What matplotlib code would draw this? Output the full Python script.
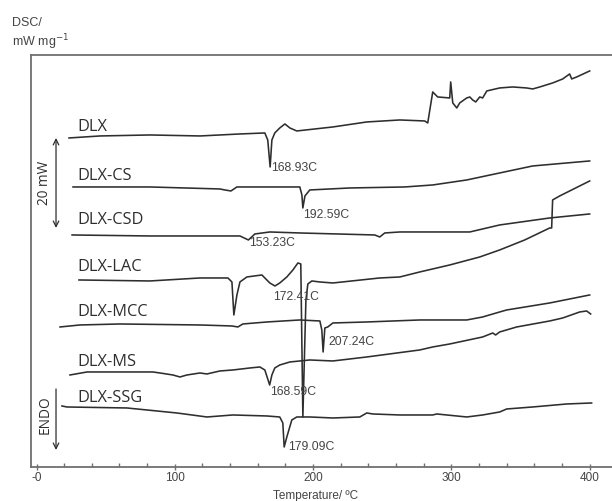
import matplotlib
matplotlib.use("Agg")
import matplotlib.pyplot as plt

# DSC traces: temperature (degC) vs stacked heat flow (offset units, endo down)
dlx_t = [23.5, 45.9, 82.0, 118.2, 147.1, 165.1, 167.2, 168.93, 170.2, 172.3, 175.9,
         179.6, 183.2, 188.2, 214.3, 238.8, 262.7, 280.7, 282.9, 286.5, 290.1, 298.8,
         299.5, 301.0, 303.9, 306.0, 311.1, 313.3, 315.4, 317.6, 320.5, 322.6, 325.6,
         334.9, 344.3, 354.4, 358.8, 363.9, 373.2, 380.5, 385.5, 387.0, 390.6, 400.0]
dlx_y = [329, 331, 332, 331, 333, 334, 327, 300, 327, 334, 339,
         343, 339, 336, 340, 345, 347, 346, 344, 375, 370, 369,
         385, 364, 359, 364, 369, 370, 367, 365, 370, 369, 376,
         379, 380, 379, 378, 380, 384, 388, 393, 388, 390, 396]

cs_t = [26.4, 82.0, 132.6, 136.2, 140.6, 144.9, 190.4, 191.9, 192.59, 194.1, 197.6,
        226.6, 266.3, 286.5, 311.1, 334.9, 358.8, 383.4, 400.0]
cs_y = [280, 280, 278, 277, 276, 280, 280, 272, 259, 271, 277,
        279, 280, 282, 287, 294, 301, 304, 306]

csd_t = [25.7, 82.0, 118.2, 147.1, 153.23, 157.9, 168.7, 190.4, 244.6, 248.2, 251.8,
         262.7, 313.3, 334.9, 371.1, 400.0]
csd_y = [232, 231, 231, 231, 227, 233, 235, 234, 232, 230, 234,
         235, 235, 242, 249, 253]

lac_t = [30.7, 82.0, 118.2, 138.4, 141.3, 142.7, 144.9, 147.1, 152.1, 163.0, 165.1,
         168.7, 172.41, 175.9, 181.0, 185.4, 189.0, 191.1, 192.6, 194.8, 196.2, 199.1,
         204.9, 214.3, 248.2, 262.7, 277.1, 298.8, 320.5, 334.9, 353.0, 371.1, 372.5,
         373.2, 378.3, 400.0]
lac_y = [187, 186, 189, 189, 185, 152, 172, 185, 190, 192, 189,
         184, 181, 184, 190, 197, 204, 203, 50, 167, 183, 186,
         185, 184, 189, 190, 195, 202, 210, 217, 227, 239, 239,
         267, 271, 286]

mcc_t = [17.0, 31.4, 60.3, 118.2, 141.3, 145.6, 149.2, 166.6, 190.4, 204.9, 206.3,
         207.24, 208.5, 210.6, 214.3, 238.8, 277.1, 311.1, 322.6, 334.9, 340.0, 371.1,
         400.0]
mcc_y = [140, 142, 143, 142, 141, 140, 143, 145, 147, 146, 137,
         115, 139, 140, 144, 145, 147, 147, 150, 155, 157, 164,
         172]

ms_t = [24.2, 36.5, 84.2, 89.2, 98.6, 103.7, 108.8, 118.2, 123.2, 132.6, 142.0,
        154.3, 161.5, 165.1, 168.59, 170.2, 172.3, 175.9, 183.2, 190.4, 197.6, 214.3,
        238.8, 277.1, 286.5, 298.8, 322.6, 329.9, 332.0, 334.9, 347.2, 371.1, 380.5,
        392.8, 397.8, 400.7]
ms_y = [92, 95, 95, 94, 92, 90, 92, 94, 93, 96, 97,
        99, 100, 97, 82, 92, 99, 102, 105, 106, 107, 106,
        110, 117, 120, 123, 130, 134, 132, 135, 140, 146, 149,
        155, 156, 153]

ssg_t = [18.4, 22.0, 65.4, 101.5, 123.2, 142.0, 166.6, 175.9, 178.1, 179.09, 181.0,
         184.6, 188.2, 197.6, 214.3, 233.8, 238.8, 243.2, 262.7, 286.5, 289.4, 311.1,
         322.6, 334.9, 340.0, 358.8, 383.4, 401.4]
ssg_y = [61, 60, 59, 54, 50, 52, 51, 50, 44, 20, 30,
         47, 50, 50, 49, 50, 54, 53, 52, 52, 53, 50,
         52, 55, 58, 60, 63, 64]

samples = ["DLX", "DLX-CS", "DLX-CSD", "DLX-LAC", "DLX-MCC", "DLX-MS", "DLX-SSG"]
curves = [(dlx_t, dlx_y), (cs_t, cs_y), (csd_t, csd_y), (lac_t, lac_y),
          (mcc_t, mcc_y), (ms_t, ms_y), (ssg_t, ssg_y)]
name_y = [340, 291, 247, 200, 155, 105, 69]

# peak labels: (text, temperature, signal at the peak, text offset in points)
peaks = [("168.93C", 168.93, 300, (0.7, -0.7)),
         ("192.59C", 192.59, 259, (0, -5)),
         ("153.23C", 153.23, 227, (0.7, -2.2)),
         ("172.41C", 172.41, 181, (-1.4, -8)),
         ("207.24C", 207.24, 115, (3.6, 7)),
         ("168.59C", 168.59, 82, (0, -5)),
         ("179.09C", 179.09, 20, (2.9, 0))]

line_col = "#2e2e2e"
text_col = "#444444"
axis_col = "#707070"

fig = plt.figure(figsize=(6.12, 5.01), dpi=100)
ax = fig.add_axes([0.0507, 0.0679, 0.97, 0.8224])

for (t, y) in curves:
    ax.plot(t, y, color=line_col, lw=1.15)

for name, yy in zip(samples, name_y):
    ax.text(29.3, yy, name, family="Open Sans", fontsize=11.8, color=line_col,
            va="center", ha="left")

for lab, t, y, off in peaks:
    ax.annotate(lab, xy=(t, y), xytext=off, textcoords="offset points",
                ha="left", va="center", family="Liberation Sans",
                fontsize=8.8, color=text_col)

# scale bar and endo direction
ax.annotate("", xy=(14.1, 239), xytext=(14.1, 329),
            arrowprops=dict(arrowstyle="<->", color=line_col, lw=0.9,
                            shrinkA=0, shrinkB=0))
ax.text(6.1, 284, "20 mW", rotation=90, family="Open Sans", fontsize=9.8,
        color=line_col, ha="center", va="center")
ax.annotate("", xy=(14.1, 17), xytext=(14.1, 78),
            arrowprops=dict(arrowstyle="->", color=line_col, lw=0.9,
                            shrinkA=0, shrinkB=0))
ax.text(6.1, 52, "ENDO", rotation=90, family="Open Sans", fontsize=9.8,
        color=line_col, ha="center", va="center")

ax.set_xlim(-3.97, 425.3)
ax.set_ylim(0, 412)
ax.set_xticks([0, 100, 200, 300, 400])
ax.set_xticklabels(["-0", "100", "200", "300", "400"])
ax.set_xticks(range(20, 420, 20), minor=True)
ax.set_yticks([])
ax.tick_params(axis="x", which="major", direction="inout", length=5, width=1,
               color=axis_col, labelsize=8.5, labelcolor=text_col, pad=1)
ax.tick_params(axis="x", which="minor", direction="in", length=3, width=1,
               color=axis_col)
for lbl in ax.get_xticklabels():
    lbl.set_family("Liberation Sans")
for side in ["left", "top", "bottom"]:
    ax.spines[side].set_color(axis_col)
    ax.spines[side].set_linewidth(1.3)
ax.spines["right"].set_visible(False)

ax.set_xlabel("Temperature/ ºC", family="Liberation Sans", fontsize=8.5,
              color=text_col, labelpad=1)
ax.xaxis.set_label_coords(0.48, -0.055)

fig.text(0.02, 0.955, "DSC/", family="Liberation Sans", fontsize=9,
         color=text_col, va="center")
fig.text(0.02, 0.915, "mW mg$^{-1}$", family="Liberation Sans", fontsize=9,
         color=text_col, va="center")

fig.savefig("out.png", dpi=100)
